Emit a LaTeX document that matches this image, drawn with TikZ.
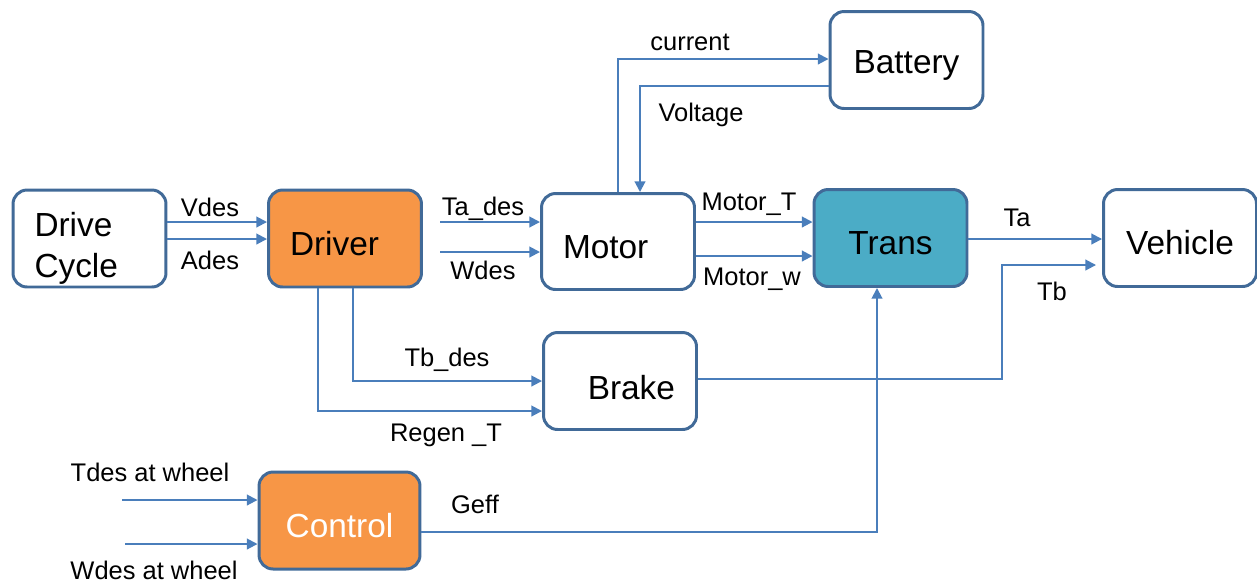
\documentclass[tikz,border=0pt]{standalone}
\usepackage{fontspec}
\setmainfont{Liberation Sans}
\usetikzlibrary{positioning,calc,arrows.meta}
\definecolor{boxclr}{RGB}{65,106,152}
\definecolor{sigclr}{RGB}{74,126,187}
\definecolor{driverclr}{RGB}{247,150,70}
\definecolor{transclr}{RGB}{75,172,198}
\tikzset{
  blk/.style={draw=boxclr, line width=1.7pt, rounded corners=8pt, fill=white,
              minimum width=3.06cm, minimum height=1.94cm, inner sep=0pt,
              text height=19pt, text depth=0pt,
              font=\fontsize{19}{23}\selectfont},
  lbl/.style={font=\fontsize{14.5}{17}\selectfont, inner sep=0pt},
  sig/.style={draw=sigclr, line width=1.1pt, -{Triangle[length=6pt,width=6pt]}}
}
\begin{document}
\begin{tikzpicture}[x=0.02cm, y=-0.02cm]
  \useasboundingbox (0,0) rectangle (1257,583);
  % blocks
  \node[blk, align=left, text width=2.2cm, text height=13pt, text depth=15pt] (cycle) at (89.5,238.5) {Drive\\Cycle};
  \node[blk, fill=driverclr, align=left, text width=2.2cm] (driver) at (345,238.5) {Driver};
  \node[blk, align=left, text width=2.2cm, minimum height=1.92cm] (motor) at (618,241.5) {Motor};
  \node[blk, text height=15pt] (battery) at (906.5,60) {Battery};
  \node[blk, fill=transclr] (trans) at (890.5,238) {Trans};
  \node[blk] (vehicle) at (1180,238) {Vehicle};
  \node[blk, align=right, text width=2.2cm, text height=21pt] (brake) at (620,381) {Brake};
  \node[blk, fill=driverclr, text=white, minimum width=3.22cm] (control) at (339.5,520.5) {Control};
  \coordinate (tdesin) at (122,500);
  \coordinate (wdesin) at (125,544);
  \coordinate (tbturn) at (1002,265);
  % signals
  \draw[sig] (cycle.east |- 0,222) -- (driver.west |- 0,222);
  \draw[sig] (cycle.east |- 0,239) -- (driver.west |- 0,239);
  \draw[sig] (440,222) -- (motor.west |- 0,222);
  \draw[sig] (440,252) -- (motor.west |- 0,252);
  \draw[sig] (motor.east |- 0,222) -- (trans.west |- 0,222);
  \draw[sig] (motor.east |- 0,256) -- (trans.west |- 0,256);
  \draw[sig] (trans.east |- 0,239) -- (vehicle.west |- 0,239);
  \draw[sig] (motor.north) |- (battery.west |- 0,59);
  \draw[sig] (battery.west |- 0,86) -| (motor.north -| 640,0);
  \draw[sig] (driver.south -| 353,0) |- (brake.west |- 0,381);
  \draw[sig] (driver.south -| 318,0) |- (brake.west |- 0,411);
  \draw[sig] (brake.east |- 0,379) -| (tbturn) -- ([xshift=-0.12cm]vehicle.west |- tbturn);
  \draw[sig] (tdesin) -- (control.west |- tdesin);
  \draw[sig] (wdesin) -- (control.west |- wdesin);
  \draw[sig] (control.east |- 0,532) -| (trans.south -| 877,0);
  % labels
  \node[lbl] (vdeslbl) at (210,207) {Vdes};
  \node[lbl] (adeslbl) at (210,260) {Ades};
  \node[lbl] (tadeslbl) at (483,209) {Ta\_des};
  \node[lbl] (wdeslbl) at (483,270) {Wdes};
  \node[lbl] (motortlbl) at (749,204) {Motor\_T};
  \node[lbl] (motorwlbl) at (752,279) {Motor\_w};
  \node[lbl] (talbl) at (1017,218) {Ta};
  \node[lbl] (tblbl) at (1052,291) {Tb};
  \node[lbl] (currentlbl) at (690,42) {current};
  \node[lbl] (voltagelbl) at (701,115) {Voltage};
  \node[lbl] (tbdeslbl) at (447,360) {Tb\_des};
  \node[lbl] (regenlbl) at (446,435) {Regen \_T};
  \node[lbl] (tdeslbl) at (150,472) {Tdes at wheel};
  \node[lbl] (wdeslbl2) at (154,570) {Wdes at wheel};
  \node[lbl] (gefflbl) at (475,504) {Geff};
\end{tikzpicture}
\end{document}
